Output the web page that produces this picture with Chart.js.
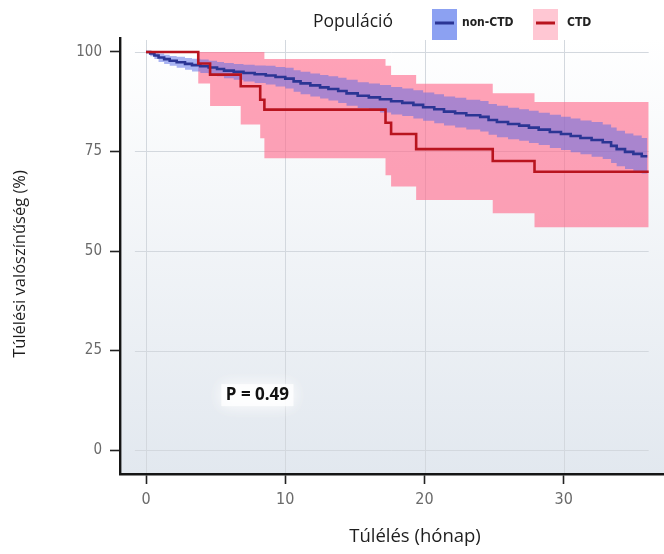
<!DOCTYPE html>
<html><head><meta charset="utf-8">
<script src="https://cdn.jsdelivr.net/npm/chart.js@4/dist/chart.umd.min.js"></script>
<style>html,body{margin:0;padding:0;background:#fff}#wrap{width:664px;height:554px;position:relative}</style>
</head><body><div id="wrap"><canvas id="c"></canvas></div>
<script>
// ---- data ----
const seriesNames = ['non-CTD', 'CTD'];
const legendTitle = 'Populáció';
const xTitle = 'Túlélés (hónap)';
const yTitle = 'Túlélési valószínűség (%)';
const pText = 'P = 0.49';
const xTicks = [0, 10, 20, 30];
const yTicks = [0, 25, 50, 75, 100];

const nonCtdTime  = [0,0.3,0.6,0.9,1.3,1.7,2.2,2.8,3.3,3.9,4.5,5.1,5.6,6.3,7.0,7.8,8.6,9.3,10.0,10.6,11.1,11.8,12.5,13.1,13.8,14.4,15.2,16.0,16.8,17.6,18.4,19.2,19.9,20.7,21.4,22.2,23.0,24.0,24.6,25.2,26.0,26.8,27.5,28.2,29.0,29.8,30.5,31.2,32.0,32.8,33.4,33.8,34.4,35.0,35.6,36.0];
const nonCtdSurv  = [100,99.6,99.1,98.6,98.2,97.8,97.4,97.0,96.7,96.4,96.1,95.7,95.3,95.0,94.7,94.4,94.1,93.7,93.3,92.6,92.1,91.6,91.1,90.7,90.2,89.6,89.0,88.6,88.1,87.6,87.2,86.7,86.1,85.6,85.0,84.6,84.1,83.7,82.9,82.4,81.9,81.5,81.0,80.5,79.9,79.4,78.9,78.4,77.9,77.3,76.4,75.6,74.9,74.4,73.8,73.8];
const nonCtdUpper = [100,100,99.9,99.6,99.3,99.0,98.8,98.5,98.3,98.1,97.8,97.5,97.2,97.0,96.8,96.6,96.5,96.2,96.0,95.4,95.0,94.6,94.2,93.9,93.5,93.0,92.4,92.1,91.7,91.2,90.8,90.4,89.8,89.4,88.8,88.5,88.0,87.7,86.9,86.5,86.0,85.6,85.2,84.7,84.2,83.7,83.3,82.8,82.4,81.8,81.0,80.2,79.5,79.0,78.4,78.4];
const nonCtdLower = [100,98.9,98.2,97.5,97.0,96.5,96.0,95.5,95.1,94.7,94.4,93.9,93.4,93.0,92.6,92.2,91.8,91.3,90.8,90.0,89.4,88.8,88.3,87.8,87.2,86.5,85.9,85.4,84.8,84.3,83.9,83.3,82.7,82.1,81.5,81.0,80.5,80.0,79.2,78.6,78.1,77.7,77.1,76.6,75.9,75.4,74.8,74.3,73.7,73.1,72.1,71.3,70.6,70.1,69.5,69.5];

const ctdTime  = [0,3.75,4.6,6.8,8.2,8.5,17.2,17.6,19.4,24.9,27.9,36.1];
const ctdSurv  = [100,97.1,94.3,91.4,88.0,85.5,82.2,79.4,75.6,72.6,69.9,69.9];
const ctdUpper = [100,100,100,100,100,98.2,96.5,94.2,92.0,89.6,87.4,87.4];
const ctdLower = [100,92.1,86.4,81.8,78.3,73.3,69.0,66.2,62.8,59.5,56.0,56.0];

const pos = {x: 8.0, y: 13.8}; // location of the P label in data units

// ---- helpers ----
const pts = (ts, vs) => ts.map((t, i) => ({x: t, y: vs[i]}));
const NAVY = '#2b3594', RED = '#b8141f';
const PINK_FILL = 'rgba(255,105,138,0.62)';
const BLUE_FILL = 'rgba(85,105,230,0.5)';

const bgPlugin = {
  id: 'bg',
  beforeDraw(chart) {
    const {ctx, chartArea: a, scales: {x, y}} = chart;
    ctx.save();
    const g = ctx.createLinearGradient(0, a.top, 0, a.bottom);
    g.addColorStop(0, '#ffffff');
    g.addColorStop(1, '#e2e8ef');
    ctx.fillStyle = g;
    ctx.fillRect(a.left, a.top, a.right - a.left, a.bottom - a.top);
    ctx.strokeStyle = '#d3d8de';
    ctx.lineWidth = 1;
    const xl = x.getPixelForValue(-0.8), xr = x.getPixelForValue(36.1);
    yTicks.forEach(v => {
      const py = Math.round(y.getPixelForValue(v)) + 0.5;
      ctx.beginPath(); ctx.moveTo(xl, py); ctx.lineTo(xr, py); ctx.stroke();
    });
    xTicks.forEach(v => {
      const px = Math.round(x.getPixelForValue(v)) + 0.5;
      ctx.beginPath(); ctx.moveTo(px, a.top + 2); ctx.lineTo(px, a.bottom); ctx.stroke();
    });
    ctx.restore();
  }
};

const textPlugin = {
  id: 'texts',
  afterDraw(chart) {
    const {ctx, scales: {x, y}} = chart;
    ctx.save();
    // axis titles
    ctx.fillStyle = '#1e1e1e';
    ctx.textAlign = 'center';
    ctx.textBaseline = 'middle';
    ctx.font = '18.5px "Open Sans", sans-serif';
    ctx.fillText(xTitle, 415, 537);
    ctx.font = '16.5px "Open Sans", sans-serif';
    ctx.translate(20, 264);
    ctx.rotate(-Math.PI / 2);
    ctx.fillText(yTitle, 0, 0);
    ctx.restore();

    // P value label with soft white halo
    ctx.save();
    const px = x.getPixelForValue(pos.x), py = y.getPixelForValue(pos.y);
    ctx.font = 'bold 17px "Open Sans", sans-serif';
    ctx.textAlign = 'center';
    ctx.textBaseline = 'middle';
    ctx.shadowColor = 'rgba(255,255,255,1)';
    ctx.shadowBlur = 16;
    ctx.fillStyle = 'rgba(255,255,255,0.55)';
    ctx.fillRect(px - 36, py - 11, 72, 22);
    ctx.fillRect(px - 36, py - 11, 72, 22);
    ctx.shadowBlur = 0;
    ctx.fillStyle = '#111';
    ctx.fillText(pText, px, py);
    ctx.restore();

    // legend
    ctx.save();
    ctx.textBaseline = 'middle';
    ctx.fillStyle = '#1e1e1e';
    ctx.font = '17.5px "Open Sans", sans-serif';
    ctx.textAlign = 'left';
    ctx.fillText(legendTitle, 313, 22);
    const items = [
      {name: seriesNames[0], box: 'rgba(120,145,240,0.85)', line: NAVY, bx: 432, tx: 462},
      {name: seriesNames[1], box: 'rgba(255,185,200,0.8)', line: RED, bx: 533, tx: 567}
    ];
    items.forEach(it => {
      ctx.fillStyle = it.box;
      ctx.fillRect(it.bx, 9, 25, 31);
      ctx.strokeStyle = it.line;
      ctx.lineWidth = 3;
      ctx.beginPath(); ctx.moveTo(it.bx + 3, 23); ctx.lineTo(it.bx + 22, 23); ctx.stroke();
      ctx.fillStyle = '#222';
      ctx.font = 'bold 12px "Liberation Sans Narrow", "DejaVu Sans Condensed", sans-serif';
      ctx.fillText(it.name, it.tx, 23);
    });
    ctx.restore();
  }
};

new Chart(document.getElementById('c'), {
  type: 'line',
  data: {
    datasets: [
      {label: seriesNames[1], data: pts(ctdTime, ctdSurv), stepped: 'before', borderColor: RED, borderWidth: 2.6, pointRadius: 0, fill: false},
      {label: seriesNames[0], data: pts(nonCtdTime, nonCtdSurv), stepped: 'before', borderColor: NAVY, borderWidth: 2.6, pointRadius: 0, fill: false},
      {label: 'nonUpper', data: pts(nonCtdTime, nonCtdUpper), stepped: 'before', borderWidth: 0, borderColor: 'rgba(0,0,0,0)', pointRadius: 0, fill: '+1', backgroundColor: BLUE_FILL},
      {label: 'nonLower', data: pts(nonCtdTime, nonCtdLower), stepped: 'before', borderWidth: 0, borderColor: 'rgba(0,0,0,0)', pointRadius: 0, fill: false},
      {label: 'ctdUpper', data: pts(ctdTime, ctdUpper), stepped: 'before', borderWidth: 0, borderColor: 'rgba(0,0,0,0)', pointRadius: 0, fill: '+1', backgroundColor: PINK_FILL},
      {label: 'ctdLower', data: pts(ctdTime, ctdLower), stepped: 'before', borderWidth: 0, borderColor: 'rgba(0,0,0,0)', pointRadius: 0, fill: false}
    ]
  },
  options: {
    responsive: true,
    maintainAspectRatio: false,
    animation: false,
    layout: {padding: {top: 38, left: 0, right: 0, bottom: 0}},
    plugins: {legend: {display: false}, tooltip: {enabled: false}},
    scales: {
      x: {
        type: 'linear', min: -1.87, max: 37.2,
        afterFit: s => { s.height = 80; },
        afterBuildTicks: s => { s.ticks = xTicks.map(v => ({value: v})); },
        grid: {drawOnChartArea: false, drawTicks: true, tickLength: 10, tickColor: '#222', tickWidth: 1.6},
        border: {display: true, color: '#151515', width: 2.4},
        ticks: {color: '#6a6a6a', padding: 6, font: {family: '"Liberation Sans Narrow", "DejaVu Sans Condensed", sans-serif', size: 16}}
      },
      y: {
        type: 'linear', min: -6.0, max: 103.5,
        afterFit: s => { s.width = 120; },
        afterBuildTicks: s => { s.ticks = yTicks.map(v => ({value: v})); },
        grid: {drawOnChartArea: false, drawTicks: true, tickLength: 10, tickColor: '#222', tickWidth: 1.6},
        border: {display: true, color: '#151515', width: 2.4},
        ticks: {color: '#6a6a6a', padding: 8, font: {family: '"Liberation Sans Narrow", "DejaVu Sans Condensed", sans-serif', size: 15}}
      }
    }
  },
  plugins: [bgPlugin, textPlugin]
});
</script>
</body></html>
